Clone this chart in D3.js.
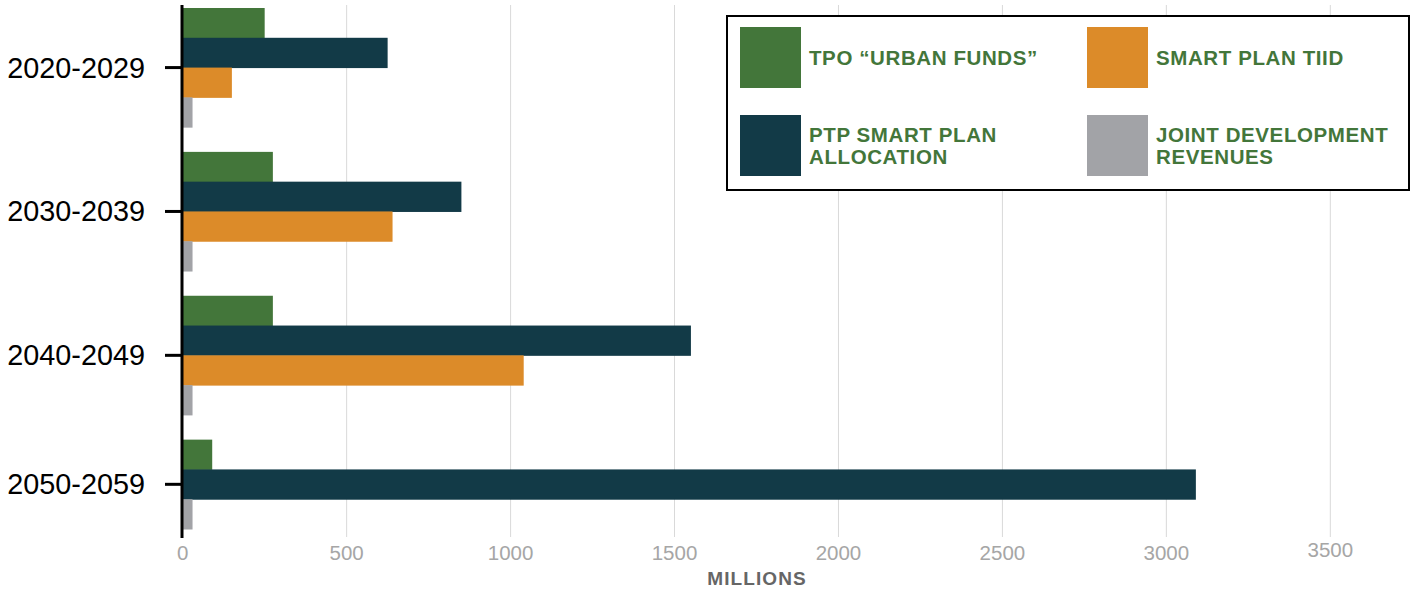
<!DOCTYPE html>
<html>
<head>
<meta charset="utf-8">
<script src="https://cdn.jsdelivr.net/npm/d3@7"></script>
<style>
  body { margin: 0; background: #fff; }
  svg { display: block; font-family: "Liberation Sans", Arial, sans-serif; }
</style>
</head>
<body>
<svg id="chart" width="1413" height="593"></svg>
<script>
// ── Datos ────────────────────────────────────────────────────────
const categories = ["2020-2029", "2030-2039", "2040-2049", "2050-2059"];
const seriesNames = ["TPO “URBAN FUNDS”", "PTP SMART PLAN ALLOCATION", "SMART PLAN TIID", "JOINT DEVELOPMENT REVENUES"];
const tpoUrban   = [250, 275, 275, 90];
const ptpSmart   = [625, 850, 1550, 3090];
const smartTiid  = [150, 640, 1040, null];
const jointDev   = [30, 30, 30, 30];
const xTicks = [0, 500, 1000, 1500, 2000, 2500, 3000, 3500];

const colors = ["#43763a", "#123a47", "#dc8b29", "#a2a3a7"];
const seriesValues = [tpoUrban, ptpSmart, smartTiid, jointDev];

// ── Escalas ──────────────────────────────────────────────────────
const svg = d3.select("#chart");
const x = d3.scaleLinear().domain([0, 3500]).range([182.7, 1330.3]);

// each group takes as many slots as it has bars, plus a gap between groups
const GAP = 0.83;
let slot = 0;
const groups = categories.map((c, i) => {
  const bars = seriesValues
    .map((vals, s) => ({ s, v: vals[i] }))
    .filter(d => d.v != null);
  const g = { cat: c, start: slot, bars };
  slot += bars.length + GAP;
  return g;
});
const totalSlots = slot - GAP;
const y = d3.scaleLinear().domain([0, totalSlots]).range([8, 529]);

// ── Grilla ───────────────────────────────────────────────────────
svg.append("g")
  .selectAll("line")
  .data(xTicks.slice(1))
  .join("line")
  .attr("x1", d => x(d)).attr("x2", d => x(d))
  .attr("y1", 5).attr("y2", 537)
  .attr("stroke", "#d9d9d9").attr("stroke-width", 1);

// ── Barras ───────────────────────────────────────────────────────
const barG = svg.append("g");
groups.forEach(g => {
  barG.selectAll(null)
    .data(g.bars)
    .join("rect")
    .attr("x", x(0))
    .attr("y", (d, k) => y(g.start + k))
    .attr("width", d => x(d.v) - x(0))
    .attr("height", (d, k) => y(g.start + k + 1) - y(g.start + k) + 0.5)
    .attr("fill", d => colors[d.s]);
});

// ── Eje Y ────────────────────────────────────────────────────────
svg.append("line")
  .attr("x1", 182).attr("x2", 182)
  .attr("y1", 5).attr("y2", 538)
  .attr("stroke", "#000").attr("stroke-width", 3);

const yTick = svg.append("g")
  .selectAll("g")
  .data(groups)
  .join("g")
  .attr("transform", d => `translate(0,${y(d.start + d.bars.length / 2)})`);

yTick.append("line")
  .attr("x1", 165).attr("x2", 182)
  .attr("stroke", "#000").attr("stroke-width", 3);

yTick.append("text")
  .attr("x", 145).attr("y", 10)
  .attr("text-anchor", "end")
  .attr("font-size", 28.8)
  .attr("fill", "#000")
  .text(d => d.cat);

// ── Eje X ────────────────────────────────────────────────────────
svg.append("g")
  .selectAll("text")
  .data(xTicks)
  .join("text")
  .attr("x", d => x(d)).attr("y", d => d === 3500 ? 557 : 560)
  .attr("text-anchor", "middle")
  .attr("font-size", 20.5)
  .attr("fill", "#a6a6a6")
  .text(d => d);

svg.append("text")
  .attr("x", 757).attr("y", 585)
  .attr("text-anchor", "middle")
  .attr("font-size", 19).attr("font-weight", "bold")
  .attr("fill", "#666")
  .attr("letter-spacing", 1.1)
  .text("MILLIONS");

// ── Leyenda ──────────────────────────────────────────────────────
svg.append("rect")
  .attr("x", 727).attr("y", 16)
  .attr("width", 682).attr("height", 174)
  .attr("fill", "#fff")
  .attr("stroke", "#000").attr("stroke-width", 2);

const legendItems = [
  { s: 0, col: 0, row: 0, lines: ["TPO “URBAN FUNDS”"] },
  { s: 2, col: 1, row: 0, lines: ["SMART PLAN TIID"] },
  { s: 1, col: 0, row: 1, lines: ["PTP SMART PLAN", "ALLOCATION"] },
  { s: 3, col: 1, row: 1, lines: ["JOINT DEVELOPMENT", "REVENUES"] }
];

const leg = svg.append("g")
  .selectAll("g")
  .data(legendItems)
  .join("g")
  .attr("transform", d => `translate(${740 + d.col * 347},${27 + d.row * 88})`);

leg.append("rect")
  .attr("width", 61).attr("height", 61)
  .attr("fill", d => colors[d.s]);

leg.each(function(d) {
  const g = d3.select(this);
  const base = d.lines.length === 1 ? 38 : 27;
  d.lines.forEach((t, i) => {
    g.append("text")
      .attr("x", 69).attr("y", base + i * 22)
      .attr("font-size", 20.5).attr("font-weight", "bold")
      .attr("letter-spacing", 0.6)
      .attr("fill", "#43763a")
      .text(t);
  });
});
</script>
</body>
</html>
